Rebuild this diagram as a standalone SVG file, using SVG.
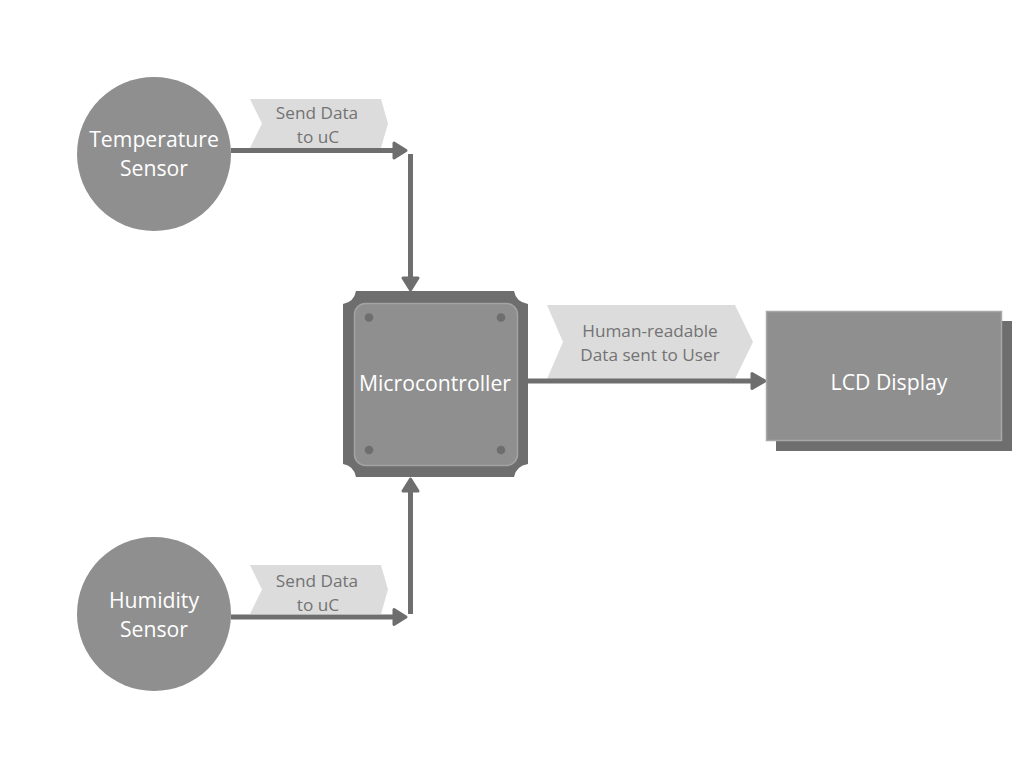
<svg xmlns="http://www.w3.org/2000/svg" width="1024" height="768" viewBox="0 0 1024 768">
<style>
.node{fill:#8f8f8f}
.ntext{font-family:"Open Sans","Liberation Sans",sans-serif;font-size:21.2px;fill:#ffffff;text-anchor:middle}
.ltext{font-family:"Open Sans","Liberation Sans",sans-serif;font-size:17.2px;fill:#737373;text-anchor:middle}
.label{fill:#dcdcdc}
.line{stroke:#6e6e6e;stroke-width:5;fill:none}
.head{fill:#6e6e6e;stroke:#6e6e6e;stroke-width:3;stroke-linejoin:round}
</style>
<rect width="1024" height="768" fill="#ffffff"/>
<g id="labels">
<g id="label-temp">
<polygon class="label" points="250,99 381,99 388,123.5 381,148 250,148 262,123.5"/>
<text class="ltext" x="317" y="119">Send Data</text>
<text class="ltext" x="318" y="143">to uC</text>
</g>
<g id="label-hum">
<polygon class="label" points="250,565 381,565 388,589.5 381,614 250,614 262,589.5"/>
<text class="ltext" x="317" y="587">Send Data</text>
<text class="ltext" x="318" y="611">to uC</text>
</g>
<g id="label-lcd">
<polygon class="label" points="547,305 735,305 753,342 735,379 547,379 563,342"/>
<text class="ltext" x="650" y="337">Human-readable</text>
<text class="ltext" x="650" y="361">Data sent to User</text>
</g>
</g>
<g id="connectors">
<line class="line" x1="231" y1="150.5" x2="396" y2="150.5"/>
<path class="head" d="M394,143 L406,150.5 L394,158 Z"/>
<line class="line" x1="410.5" y1="154" x2="410.5" y2="280"/>
<path class="head" d="M403,278 L410.5,290 L418,278 Z"/>
<line class="line" x1="231" y1="617" x2="396" y2="617"/>
<path class="head" d="M394,609.5 L406,617 L394,624.5 Z"/>
<line class="line" x1="410.5" y1="614" x2="410.5" y2="490"/>
<path class="head" d="M403,491 L410.5,479 L418,491 Z"/>
<line class="line" x1="527" y1="381" x2="754" y2="381"/>
<path class="head" d="M752,373.5 L765,381 L752,388.5 Z"/>
</g>
<g id="temperature-sensor">
<circle class="node" cx="154" cy="154" r="77"/>
<text class="ntext" x="154" y="147">Temperature</text>
<text class="ntext" x="154" y="176">Sensor</text>
</g>
<g id="humidity-sensor">
<circle class="node" cx="154" cy="614" r="77"/>
<text class="ntext" x="154" y="608">Humidity</text>
<text class="ntext" x="154" y="637">Sensor</text>
</g>
<g id="microcontroller">
<path fill="#6e6e6e" d="M356,291 L514,291 Q516,302 528,304 L528,464 Q516,466 514,477 L356,477 Q354,466 343,464 L343,304 Q354,302 356,291 Z"/>
<rect x="354.5" y="303.5" width="163" height="162" rx="11" fill="#8f8f8f" stroke="#a3a3a3" stroke-width="1.5"/>
<circle cx="369" cy="317.5" r="4.3" fill="#6e6e6e"/>
<circle cx="501" cy="317.5" r="4.3" fill="#6e6e6e"/>
<circle cx="369" cy="450" r="4.3" fill="#6e6e6e"/>
<circle cx="501" cy="450" r="4.3" fill="#6e6e6e"/>
<text class="ntext" x="435" y="391">Microcontroller</text>
</g>
<g id="lcd-display">
<rect x="776" y="321" width="236" height="130" fill="#6e6e6e"/>
<rect x="766.5" y="311.5" width="235" height="129" fill="#8f8f8f" stroke="#a8a8a8" stroke-width="1.5"/>
<text class="ntext" x="889" y="390">LCD Display</text>
</g>
</svg>
